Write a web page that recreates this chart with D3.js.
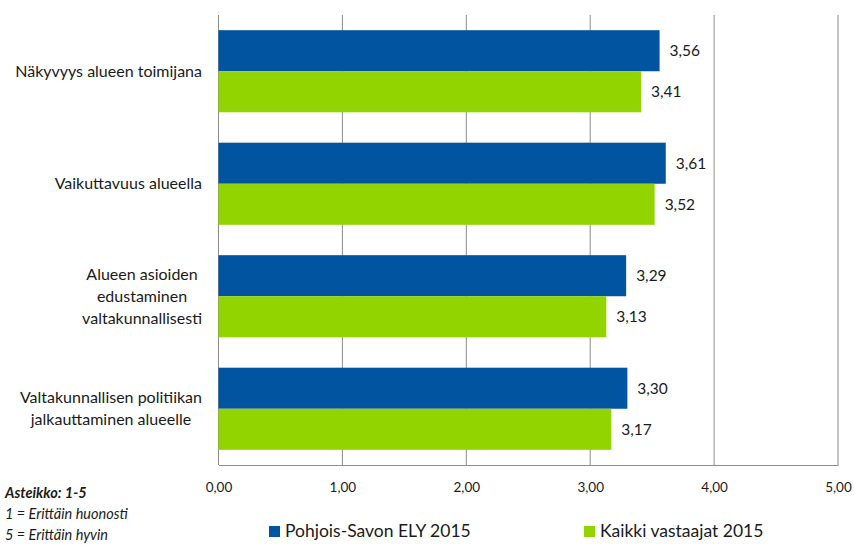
<!DOCTYPE html>
<html>
<head>
<meta charset="utf-8">
<title>ELY-keskus arviot</title>
<script src="https://cdn.jsdelivr.net/npm/d3@7"></script>
<style>
  body { margin: 0; background: #fff; }
  text { font-family: Lato, "Open Sans", sans-serif; fill: #1a1a1a; }
</style>
</head>
<body>
<div class="chart-area"></div>
<script>
// data
var categories = [
  ["Näkyvyys alueen toimijana"],
  ["Vaikuttavuus alueella"],
  ["Alueen asioiden", "edustaminen", "valtakunnallisesti"],
  ["Valtakunnallisen politiikan", "jalkauttaminen alueelle"]
];
var seriesNames = ["Pohjois-Savon ELY 2015", "Kaikki vastaajat 2015"];
var elyValues = [3.56, 3.61, 3.29, 3.30];
var allValues = [3.41, 3.52, 3.13, 3.17];
var xTicks = [0, 1, 2, 3, 4, 5];
var colors = ["#0054a0", "#92d400"];

var W = 854, H = 545;
var margin = { left: 218.5, right: 16, top: 15, bottom: 80 };
var width = W - margin.left - margin.right,
    height = H - margin.top - margin.bottom;

var svg = d3.select(".chart-area").append("svg")
  .attr("width", W).attr("height", H);

var g = svg.append("g")
  .attr("transform", "translate(" + margin.left + "," + margin.top + ")");

var x = d3.scaleLinear().domain([0, 5]).range([0, width]);
var y = d3.scaleBand()
  .domain(d3.range(categories.length))
  .range([0, height])
  .paddingInner(0.27).paddingOuter(0.135);
var ySub = d3.scaleBand().domain([0, 1]).range([0, y.bandwidth()]);

var fmt = function(d) { return d3.format(".2f")(d).replace(".", ","); };

// gridlines
g.append("g").selectAll("line")
  .data(xTicks)
  .enter().append("line")
  .attr("x1", function(d) { return x(d); })
  .attr("x2", function(d) { return x(d); })
  .attr("y1", 0).attr("y2", height)
  .attr("stroke", "#8c8c8c").attr("stroke-width", 1);

// bottom axis
var xAxis = d3.axisBottom(x)
  .tickValues(xTicks)
  .tickSize(0).tickPadding(17)
  .tickFormat(fmt);
var ax = g.append("g")
  .attr("transform", "translate(0," + height + ")")
  .call(xAxis);
ax.select(".domain").attr("stroke", "#8c8c8c");
ax.selectAll("text").style("font-size", "13.5px").attr("fill", "#1a1a1a")
  .style("font-family", "Lato, sans-serif");

var rows = categories.map(function(c, i) {
  return { i: i, vals: [elyValues[i], allValues[i]] };
});

var group = g.selectAll(".grp")
  .data(rows).enter().append("g")
  .attr("class", "grp")
  .attr("transform", function(d) { return "translate(0," + y(d.i) + ")"; });

group.selectAll("rect")
  .data(function(d) { return d.vals; })
  .enter().append("rect")
  .attr("x", 0)
  .attr("y", function(d, j) { return ySub(j); })
  .attr("width", function(d) { return x(d); })
  .attr("height", ySub.bandwidth())
  .attr("fill", function(d, j) { return colors[j]; });

group.selectAll(".val")
  .data(function(d) { return d.vals; })
  .enter().append("text")
  .attr("class", "val")
  .attr("x", function(d) { return x(d) + 10; })
  .attr("y", function(d, j) { return ySub(j) + ySub.bandwidth() / 2; })
  .attr("dy", "0.35em")
  .style("font-size", "15.5px")
  .text(fmt);

// category labels: lines centred within a block whose right edge sits at x=202
var lineH = 22;
var labelRight = 202 - margin.left;
g.selectAll(".cat")
  .data(categories).enter().append("text")
  .attr("class", "cat")
  .attr("text-anchor", "middle")
  .style("font-size", "16px")
  .each(function(lines, i) {
    var t = d3.select(this);
    var cy = y(i) + y.bandwidth() / 2;
    var y0 = cy - (lines.length - 1) * lineH / 2;
    var spans = lines.map(function(s, k) {
      return t.append("tspan")
        .attr("y", y0 + k * lineH)
        .attr("dy", "0.33em")
        .text(s);
    });
    var maxW = d3.max(spans, function(s) { return s.node().getComputedTextLength(); });
    spans.forEach(function(s) { s.attr("x", labelRight - maxW / 2); });
  });

// legend
var legendX = [269, 584];
var leg = svg.selectAll(".leg")
  .data(seriesNames).enter().append("g")
  .attr("class", "leg")
  .attr("transform", function(d, i) { return "translate(" + legendX[i] + ",526)"; });
leg.append("rect")
  .attr("width", 11).attr("height", 11)
  .attr("fill", function(d, i) { return colors[i]; });
leg.append("text")
  .attr("x", 16).attr("y", 11)
  .style("font-size", "17.5px")
  .text(function(d) { return d; });

// scale note
var notes = [
  { t: "Asteikko: 1-5", y: 498, bold: true },
  { t: "1 = Erittäin huonosti", y: 519, bold: false },
  { t: "5 = Erittäin hyvin", y: 540, bold: false }
];
svg.selectAll(".note")
  .data(notes).enter().append("text")
  .attr("class", "note")
  .attr("x", 5)
  .attr("y", function(d) { return d.y; })
  .style("font-size", "14.5px")
  .style("font-style", "italic")
  .style("font-weight", function(d) { return d.bold ? "bold" : "normal"; })
  .text(function(d) { return d.t; });
</script>
</body>
</html>
